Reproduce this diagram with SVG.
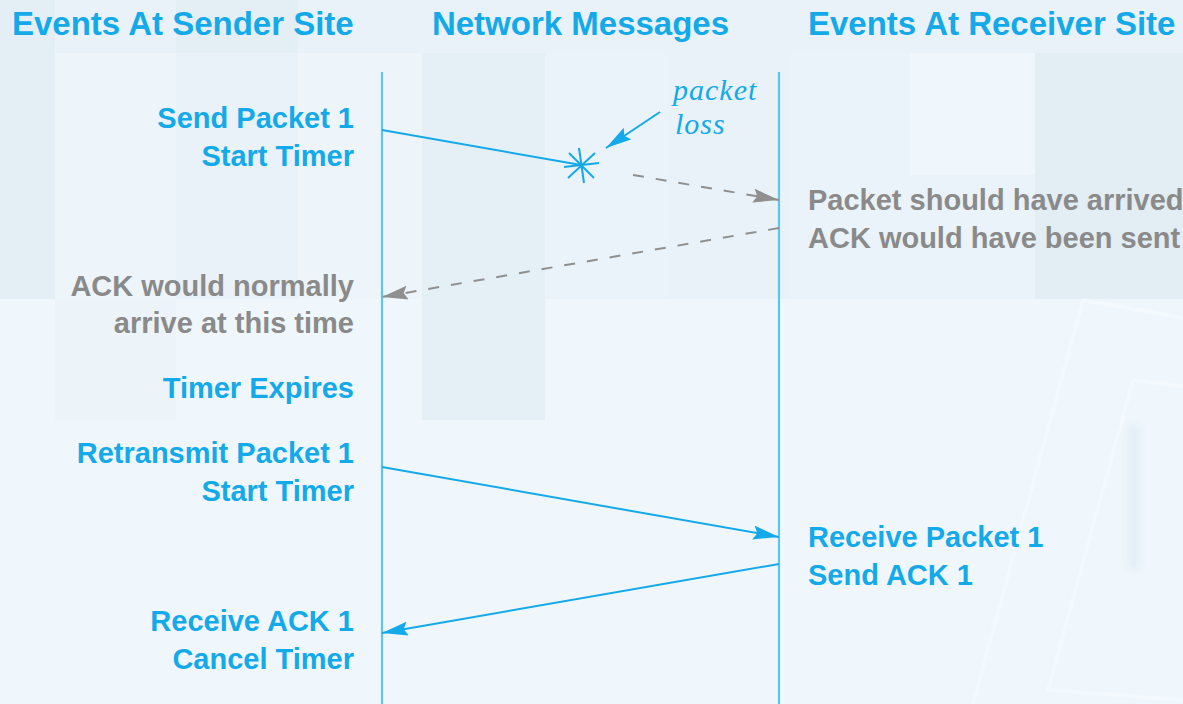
<svg xmlns="http://www.w3.org/2000/svg" width="1183" height="704" viewBox="0 0 1183 704">
<style>
.hd{font-family:"Liberation Sans",Arial,sans-serif;font-weight:bold;font-size:33px;fill:#14a9e8}
.bl{font-family:"Liberation Sans",Arial,sans-serif;font-weight:bold;font-size:29px;fill:#14a9e8}
.gr{font-family:"Liberation Sans",Arial,sans-serif;font-weight:bold;font-size:29px;fill:#8a8a8a}
.r{text-anchor:end}
.it{font-family:"Liberation Serif","Times New Roman",serif;font-style:italic;font-size:30px;fill:#14a9e8;letter-spacing:1px}
.life{stroke:#5cc6f0;stroke-width:2.2;fill:none}
.msg{stroke:#14a9e8;stroke-width:2;fill:none}
.dash{stroke:#8f8f8f;stroke-width:2;fill:none;stroke-dasharray:11 12}
</style>
<defs>
<marker id="ab" markerUnits="userSpaceOnUse" markerWidth="28" markerHeight="16" refX="26" refY="7" orient="auto">
<path d="M0,0 L26,7 L0,14 L4,7 z" fill="#14a9e8"/>
</marker>
<marker id="ag" markerUnits="userSpaceOnUse" markerWidth="28" markerHeight="16" refX="26" refY="7" orient="auto">
<path d="M0,0 L26,7 L0,14 L4,7 z" fill="#8f8f8f"/>
</marker>
<filter id="blur" x="-50%" y="-20%" width="200%" height="140%"><feGaussianBlur stdDeviation="4"/></filter>
</defs>
<g id="background">
<rect x="0" y="0" width="1183" height="704" fill="#eff7fc"/>
<rect x="0" y="0" width="1183" height="53" fill="#e8f2f8"/>
<rect x="0" y="0" width="55" height="53" fill="#e4eff5"/>
<rect x="176" y="0" width="122" height="53" fill="#e4eff5"/>
<rect x="0" y="53" width="55" height="246" fill="#e4eff5"/>
<rect x="55" y="53" width="121" height="246" fill="#edf5fa"/>
<rect x="176" y="53" width="122" height="246" fill="#e8f2f8"/>
<rect x="298" y="53" width="124" height="246" fill="#edf5fa"/>
<rect x="422" y="53" width="123" height="367" fill="#e5f0f6"/>
<rect x="545" y="53" width="123" height="246" fill="#eaf3f9"/>
<rect x="668" y="53" width="122" height="246" fill="#e8f2f8"/>
<rect x="790" y="53" width="120" height="246" fill="#eaf3f9"/>
<rect x="910" y="53" width="125" height="122" fill="#f0f7fc"/>
<rect x="910" y="175" width="125" height="124" fill="#eaf3f9"/>
<rect x="1035" y="53" width="148" height="246" fill="#e2edf4"/>
<rect x="55" y="299" width="121" height="121" fill="#ecf4f9"/>
<path d="M1083,300 L1183,318 M1083,300 L973,704" stroke="#f5fafd" stroke-width="4" fill="none" opacity="0.7"/>
<path d="M1133,380 L1183,386 M1133,380 L1048,690 L1183,700" stroke="#f5fafd" stroke-width="4" fill="none" opacity="0.7"/>
<rect x="1128" y="425" width="12" height="145" fill="#dde9f0" opacity="0.7" filter="url(#blur)"/>
</g>
<g id="headers">
<text class="hd" x="12" y="35">Events At Sender Site</text>
<text class="hd" x="580.5" y="35" text-anchor="middle">Network Messages</text>
<text class="hd" x="808" y="35">Events At Receiver Site</text>
</g>
<g id="lifelines">
<line class="life" x1="382" y1="72" x2="382" y2="704"/>
<line class="life" x1="779" y1="72" x2="779" y2="704"/>
</g>
<g id="sender-events">
<text class="bl r" x="354" y="128">Send Packet 1</text>
<text class="bl r" x="354" y="166">Start Timer</text>
<text class="gr r" x="354" y="296">ACK would normally</text>
<text class="gr r" x="354" y="333">arrive at this time</text>
<text class="bl r" x="354" y="398">Timer Expires</text>
<text class="bl r" x="354" y="463">Retransmit Packet 1</text>
<text class="bl r" x="354" y="501">Start Timer</text>
<text class="bl r" x="354" y="631">Receive ACK 1</text>
<text class="bl r" x="354" y="669">Cancel Timer</text>
</g>
<g id="receiver-events">
<text class="gr" x="808" y="210">Packet should have arrived</text>
<text class="gr" x="808" y="248">ACK would have been sent</text>
<text class="bl" x="808" y="547">Receive Packet 1</text>
<text class="bl" x="808" y="585">Send ACK 1</text>
</g>
<g id="packet-loss">
<text class="it" x="673" y="100">packet</text>
<text class="it" x="675" y="134">loss</text>
<g stroke="#14a9e8" stroke-width="2">
<line x1="579" y1="148" x2="584" y2="183"/>
<line x1="564" y1="167" x2="599" y2="163"/>
<line x1="569" y1="153" x2="594" y2="178"/>
<line x1="595" y1="153" x2="568" y2="178"/>
</g>
</g>
<g id="connectors">
<line class="msg" x1="382" y1="130" x2="581" y2="165"/>
<line class="msg" x1="660" y1="112" x2="606" y2="148" marker-end="url(#ab)"/>
<line class="dash" x1="633" y1="175" x2="779" y2="200" marker-end="url(#ag)"/>
<line class="dash" x1="779" y1="228" x2="382" y2="297" marker-end="url(#ag)"/>
<line class="msg" x1="382" y1="467" x2="779" y2="537" marker-end="url(#ab)"/>
<line class="msg" x1="779" y1="564" x2="382" y2="633" marker-end="url(#ab)"/>
</g>
</svg>
